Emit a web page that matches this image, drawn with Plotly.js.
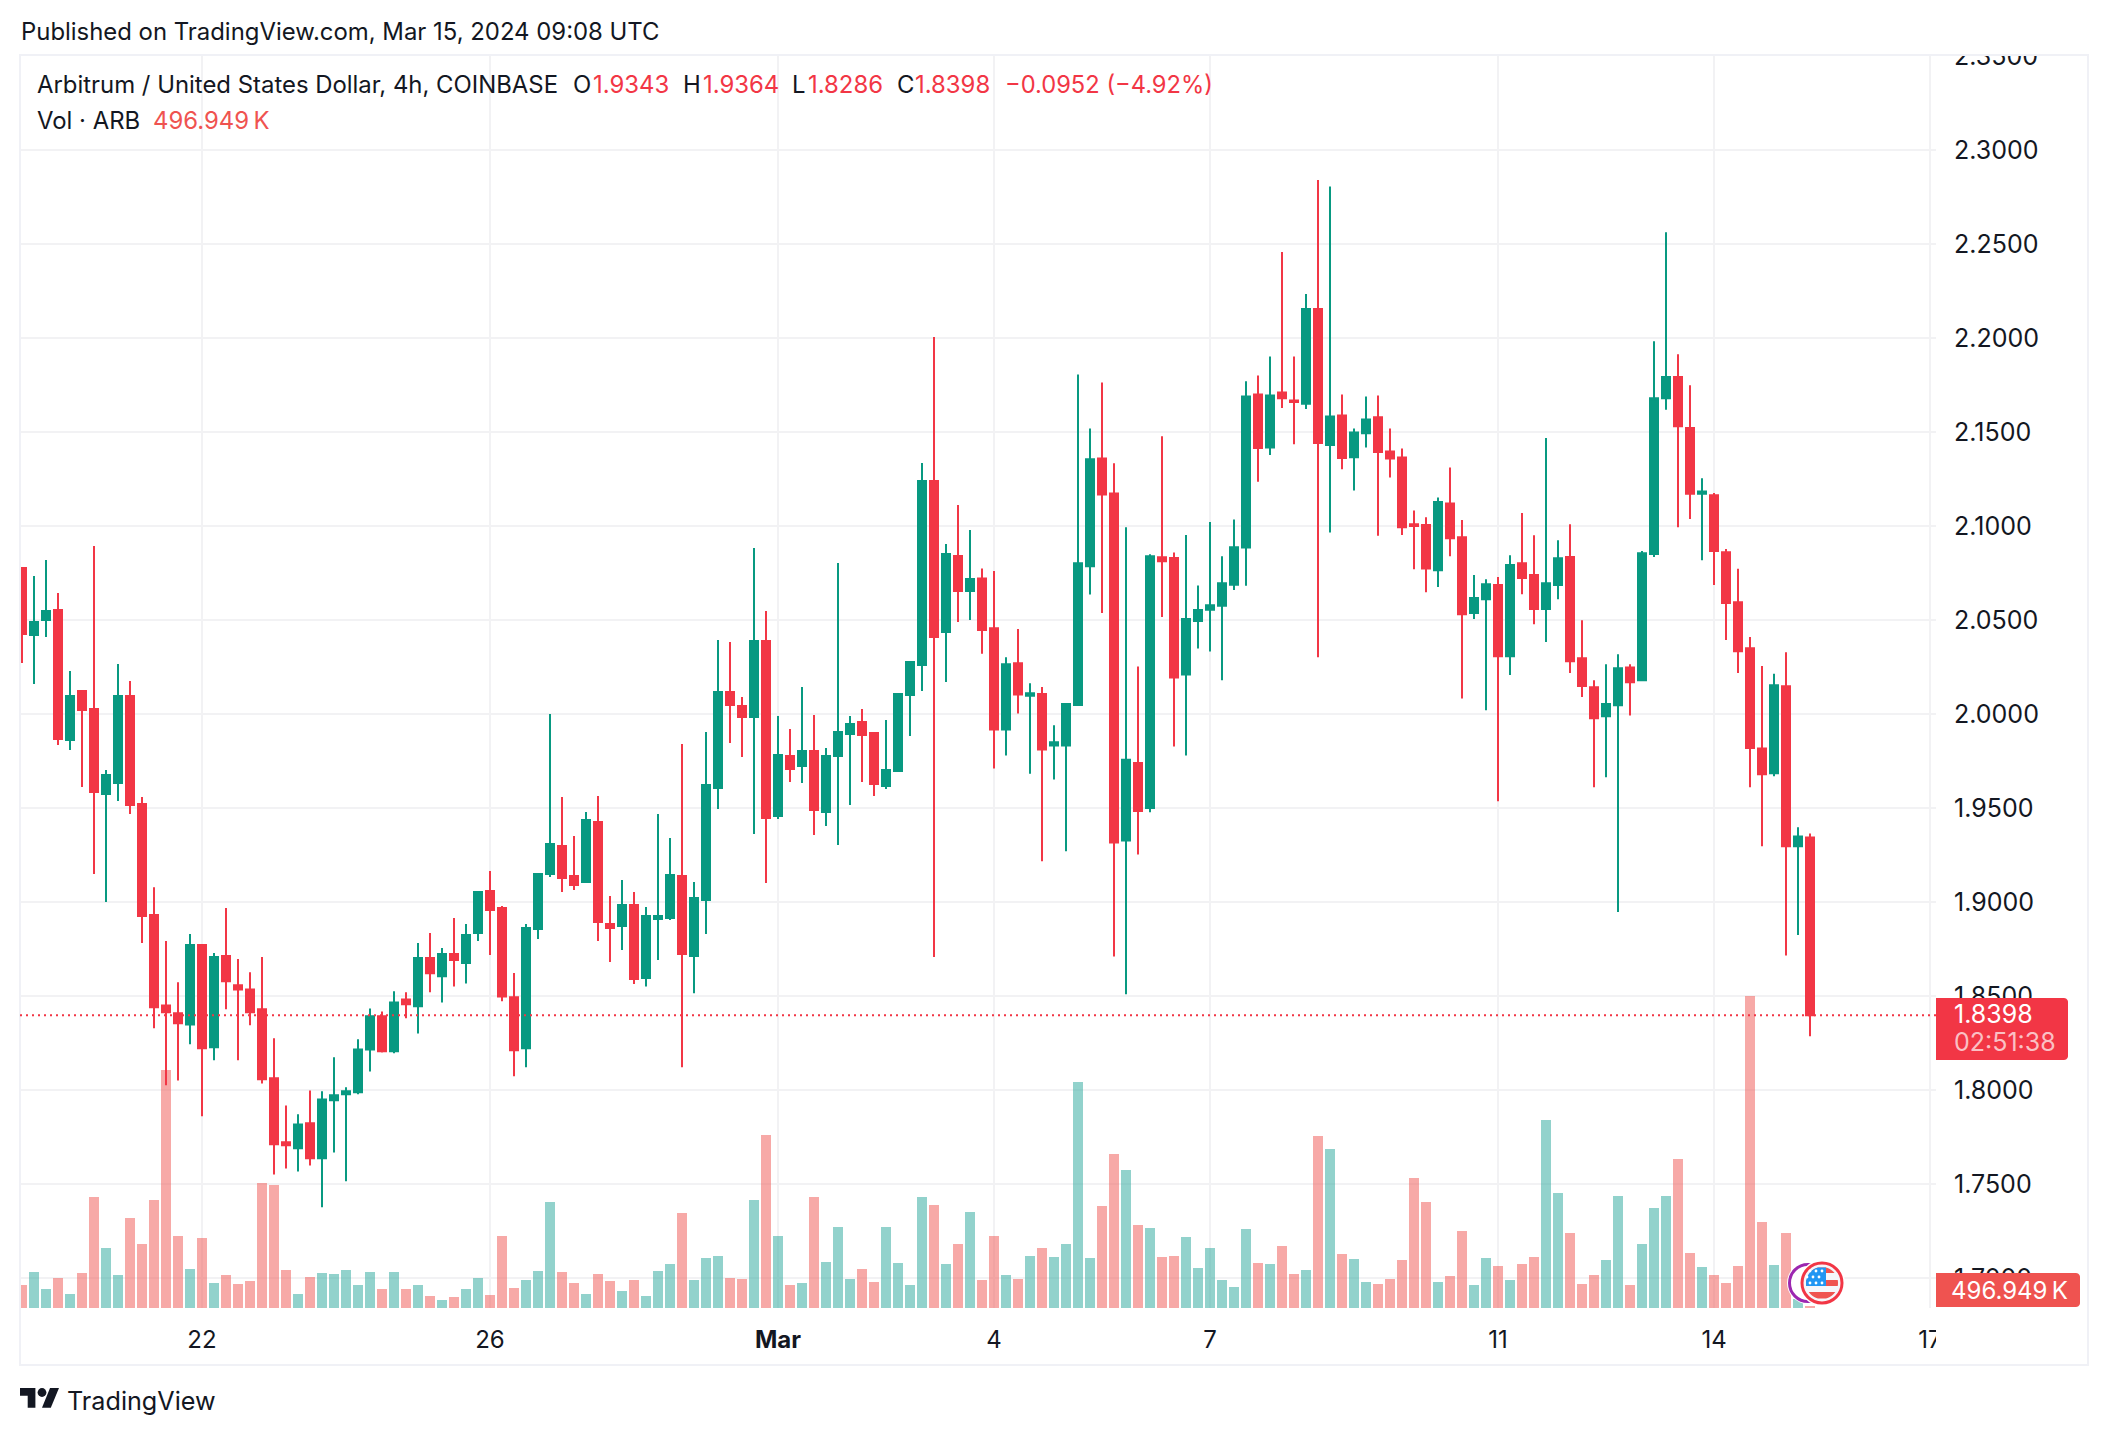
<!DOCTYPE html>
<html>
<head>
<meta charset="utf-8">
<script src="https://cdn.plot.ly/plotly-3.0.1.min.js"></script>
<style>html,body{margin:0;padding:0;background:#fff}#c{width:2108px;height:1434px}</style>
</head>
<body>
<div id="c"></div>
<script>
const openPrices = [
2.0777,2.0420,2.0500,2.0553,1.9862,2.0122,2.0027,1.9574,1.9633,2.0096,
1.9521,1.8931,1.8450,1.8408,1.8349,1.8771,1.8227,1.8713,1.8557,1.8535,
1.8429,1.8062,1.7722,1.7690,1.7823,1.7637,1.7945,1.7977,1.7988,1.8216,
1.8392,1.8206,1.8482,1.8445,1.8702,1.8605,1.8723,1.8676,1.8835,1.9059,
1.8968,1.8493,1.8222,1.8856,1.9149,1.9298,1.9138,1.9106,1.9426,1.8883,
1.8872,1.8984,1.8596,1.8910,1.8915,1.9138,1.8713,1.9011,1.9606,2.0117,
2.0043,1.9984,2.0388,1.9457,1.9777,1.9723,1.9803,1.9479,1.9777,1.9894,
1.9957,1.9899,1.9617,1.9697,2.0101,2.0261,2.1239,2.0436,2.0840,2.0654,
2.0721,2.0456,1.9917,2.0270,2.0097,2.0106,1.9832,1.9832,2.0048,2.0786,
2.1359,2.1173,1.9327,1.9740,1.9500,2.0834,2.0830,2.0210,2.0495,2.0555,
2.0576,2.0687,2.0885,2.1700,2.1417,2.1710,2.1668,2.1650,2.2154,2.1431,
2.1588,2.1366,2.1493,2.1578,2.1396,2.1364,2.1009,2.1005,2.0765,2.1120,
2.0940,2.0537,2.0611,2.0686,2.0307,2.0802,2.0739,2.0558,2.0686,2.0835,
2.0297,2.0142,1.9988,2.0047,2.0248,2.0179,2.0851,2.1680,2.1792,2.1521,
2.1171,2.1164,2.0861,2.0594,2.0350,1.9817,1.9685,2.0147,1.9296,1.9343];
const closePrices = [
2.0426,2.0489,2.0548,1.9867,2.0096,2.0021,1.9585,1.9676,2.0096,1.9516,
1.8926,1.8440,1.8413,1.8355,1.8771,1.8222,1.8707,1.8578,1.8535,1.8413,
1.8057,1.7711,1.7706,1.7817,1.7637,1.7950,1.7972,1.7993,1.8216,1.8392,
1.8206,1.8466,1.8456,1.8702,1.8621,1.8723,1.8691,1.8824,1.9053,1.8957,
1.8498,1.8211,1.8862,1.9149,1.9309,1.9128,1.9090,1.9436,1.8894,1.8862,
1.8984,1.8590,1.8926,1.8926,1.9144,1.8723,1.9021,1.9622,2.0117,2.0048,
1.9984,2.0388,1.9447,1.9782,1.9707,1.9803,1.9489,1.9777,1.9904,1.9947,
1.9888,1.9628,1.9702,2.0106,2.0277,2.1239,2.0410,2.0851,2.0654,2.0718,
2.0447,1.9917,2.0265,2.0104,2.0111,1.9811,1.9850,2.0053,2.0802,2.1355,
2.1168,1.9316,1.9756,1.9484,2.0839,2.0813,2.0194,2.0505,2.0553,2.0578,
2.0696,2.0887,2.1689,2.1415,2.1694,2.1680,2.1659,2.2154,2.1442,2.1583,
2.1362,2.1498,2.1567,2.1394,2.1359,2.0993,2.1000,2.0774,2.1127,2.0935,
2.0531,2.0617,2.0690,2.0307,2.0792,2.0723,2.0558,2.0696,2.0829,2.0281,
2.0149,1.9978,2.0053,2.0244,2.0169,2.0855,2.1680,2.1792,2.1531,2.1171,
2.1183,2.0867,2.0590,2.0334,1.9819,1.9679,2.0153,1.9296,1.9349,1.8398];
const highPrices = [
2.0777,2.0734,2.0819,2.0644,2.0229,2.0128,2.0894,1.9702,2.0266,2.0176,
1.9558,1.9078,1.8793,1.8573,1.8830,1.8771,1.8729,1.8968,1.8697,1.8626,
1.8707,1.8275,1.7918,1.7871,1.7998,1.7993,1.8174,1.8014,1.8270,1.8434,
1.8418,1.8525,1.8520,1.8782,1.8835,1.8755,1.8915,1.8883,1.9059,1.9165,
1.8979,1.8622,1.8883,1.9154,2.0000,1.9559,1.9351,1.9479,1.9564,1.9032,
1.9117,1.9053,1.8973,1.9468,1.9340,1.9840,1.9106,1.9904,2.0394,2.0383,
2.0090,2.0883,2.0548,1.9989,1.9920,2.0144,1.9995,1.9819,2.0803,1.9989,
2.0027,1.9899,1.9968,2.0112,2.0277,2.1335,2.2005,2.0904,2.1112,2.0979,
2.0774,2.0760,2.0302,2.0452,2.0164,2.0143,1.9940,2.0053,2.1806,2.1518,
2.1763,2.1334,2.0993,2.0253,2.0850,2.1477,2.0859,2.0952,2.0684,2.1021,
2.0839,2.1035,2.1770,2.1800,2.1901,2.2457,2.1901,2.2234,2.2840,2.2806,
2.1700,2.1518,2.1689,2.1694,2.1518,2.1412,2.1083,2.1046,2.1152,2.1311,
2.1032,2.0739,2.0717,2.0729,2.0845,2.1069,2.0951,2.1468,2.0924,2.1009,
2.0499,2.0179,2.0264,2.0318,2.0264,2.0867,2.1983,2.2563,2.1914,2.1749,
2.1254,2.1175,2.0877,2.0772,2.0409,2.0255,2.0214,2.0328,1.9398,1.9364];
const lowPrices = [
2.0271,2.0160,2.0410,1.9835,1.9809,1.9612,1.9149,1.9000,1.9537,1.9468,
1.8782,1.8328,1.8025,1.8051,1.8243,1.7860,1.8158,1.8429,1.8158,1.8344,
1.8035,1.7551,1.7583,1.7567,1.7599,1.7376,1.7668,1.7514,1.7977,1.8099,
1.8200,1.8195,1.8381,1.8301,1.8520,1.8466,1.8551,1.8567,1.8793,1.8718,
1.8472,1.8073,1.8121,1.8803,1.9133,1.9053,1.9064,1.9106,1.8793,1.8681,
1.8745,1.8564,1.8551,1.8691,1.8904,1.8121,1.8514,1.8830,1.9495,1.9846,
1.9771,1.9362,1.9101,1.9441,1.9638,1.9633,1.9356,1.9404,1.9303,1.9516,
1.9638,1.9564,1.9601,1.9691,1.9883,2.0122,1.8707,2.0170,2.0489,2.0500,
2.0320,1.9710,1.9779,2.0002,1.9682,1.9217,1.9652,1.9270,2.0048,2.0636,
2.0537,1.8710,1.8509,1.9253,1.9477,2.0516,1.9827,1.9779,2.0348,2.0332,
2.0180,2.0659,2.0682,2.1235,2.1378,2.1627,2.1435,2.1622,2.0302,2.0965,
2.1302,2.1189,2.1417,2.0948,2.1258,2.0952,2.0770,2.0647,2.0675,2.0839,
2.0083,2.0505,2.0020,1.9536,2.0208,2.0637,2.0478,2.0383,2.0611,2.0218,
2.0090,1.9611,1.9664,1.8947,1.9992,2.0179,2.0835,2.1618,2.0993,2.1037,
2.0818,2.0686,2.0393,2.0218,1.9611,1.9296,1.9669,1.8716,1.8824,1.8286];
// volume, thousands of ARB
const volumeK = [
5750,9000,4750,7500,3500,8750,27750,15000,8250,22500,
16000,27000,59500,18000,9750,17500,6250,8250,6000,6750,
31250,30750,9500,3500,7750,8750,8500,9500,5750,9000,
4750,9000,4750,5750,3000,2000,2750,4750,7500,3250,
18000,5000,7000,9250,26500,9000,6250,3500,8500,6750,
4250,7000,3000,9250,11000,23750,7000,12500,13000,7500,
7250,27000,43250,18000,5750,6250,27750,11500,20250,7250,
9750,6500,20250,11250,5750,27750,25750,11000,16000,24000,
7000,18000,8250,7250,13000,15000,12750,16000,56500,12500,
25500,38500,34500,20750,20000,12750,13000,17750,10000,15000,
7000,5250,19750,11250,11000,15500,8500,9500,43000,39750,
13500,12250,6500,6000,7250,12000,32500,26500,6500,8000,
19250,5750,12500,10500,7000,11000,12750,47000,28750,18750,
6000,8250,12000,28000,5750,16000,25000,28000,37250,13750,
10250,8250,6250,10500,78000,21500,10750,18750,2250,496.949];

const firstBar = Date.UTC(2024,1,19,12);
const barMs = 4*3600*1000;
const tickDates = ['2024-02-22','2024-02-26','2024-03-01','2024-03-04','2024-03-07','2024-03-11','2024-03-14','2024-03-17'];
const tickLabels = ['22','26','<b>Mar</b>','4','7','11','14','17'];
const priceTicks = [1.70,1.75,1.80,1.85,1.90,1.95,2.00,2.05,2.10,2.15,2.20,2.25,2.30,2.35];
const priceLabels = priceTicks.map(v=>v.toFixed(4));

const UP='#089981', DOWN='#F23645', UPV='rgba(38,166,154,0.5)', DOWNV='rgba(239,83,80,0.5)', INK='#131722', VOLRED='#EF5350';
const FONT='Inter, "Noto Sans", sans-serif';
const stamp = i => new Date(firstBar+i*barMs).toISOString().slice(0,19).replace('T',' ');
const times = openPrices.map((_,i)=>stamp(i));
const lastClose = closePrices[closePrices.length-1];

// pixel helpers for the page furniture
const L=20,R=1936,T=55,B=1308;
const PX=x=>(x-L)/(R-L), PY=y=>1-(y-T)/(B-T);
const poly=pts=>pts.map((p,i)=>(i?'L':'M')+PX(p[0])+','+PY(p[1])).join(' ')+' Z';
function roundRect(x0,y0,x1,y1,rr){ // square on the left, rounded on the right
  const pts=[[x0,y0],[x1-rr,y0]];
  for(let a=-90;a<=0;a+=15) pts.push([x1-rr+rr*Math.cos(a*Math.PI/180),y0+rr+rr*Math.sin(a*Math.PI/180)]);
  for(let a=0;a<=90;a+=15) pts.push([x1-rr+rr*Math.cos(a*Math.PI/180),y1-rr+rr*Math.sin(a*Math.PI/180)]);
  pts.push([x0,y1]);
  return poly(pts);
}
function pxShape(extra){return Object.assign({xref:'paper',yref:'paper',layer:'above',line:{width:0}},extra);}
function circle(cx,cy,r,fill,lc,lw){return pxShape({type:'circle',x0:PX(cx-r),x1:PX(cx+r),y0:PY(cy+r),y1:PY(cy-r),fillcolor:fill,line:{color:lc||fill,width:lw||0}});}
function band(cx,cy,r,xl,xr,yt,yb,fill){ // part of a disc inside a box
  const a=[],b=[];
  for(let y=yt;y<=yb;y+=0.5){const h=Math.sqrt(Math.max(0,r*r-(y-cy)*(y-cy)));
    const l=Math.max(xl,cx-h), rr=Math.min(xr,cx+h); if(rr>l){a.push([l,y]);b.unshift([rr,y]);}}
  return pxShape({type:'path',path:poly(a.concat(b)),fillcolor:fill});
}

const FY=1283; // event icon centre
const shapes=[
  // covers: clip axis labels to the panes
  pxShape({type:'rect',x0:PX(1936),x1:PX(2087),y0:PY(1363),y1:PY(1309),fillcolor:'#fff'}),
  pxShape({type:'rect',x0:PX(1937),x1:PX(2087),y0:PY(55),y1:PY(30),fillcolor:'#fff'}),
  // frame
  pxShape({type:'rect',x0:PX(20),x1:PX(2088),y0:PY(1365),y1:PY(55),fillcolor:'rgba(0,0,0,0)',line:{color:'#F0F1F6',width:2}}),
  // last price line
  {type:'line',xref:'paper',yref:'y2',x0:0,x1:1,y0:lastClose,y1:lastClose,layer:'above',line:{color:DOWN,width:2,dash:'2px,4px'}},
  // price & volume labels
  pxShape({type:'path',path:roundRect(1936,998,2068,1060,4),fillcolor:DOWN}),
  pxShape({type:'path',path:roundRect(1936,1273,2080,1307,4),fillcolor:VOLRED}),
  // event icons
  circle(1808,FY,21,'#fff'),
  circle(1808,FY,18.5,'#fff','#9C27B0',3),
  circle(1822,FY,23,'#fff'),
  circle(1822,FY,20,'#F5F6FA','#F23645',3),
  band(1822,FY,16,1700,1838,FY-16,FY-10,'#EF5350'),
  band(1822,FY,16,1700,1838,FY-3,FY+3,'#EF5350'),
  band(1822,FY,16,1700,1838,FY+9,FY+16,'#EF5350'),
  band(1822,FY,16,1800,1826,FY-16,FY+3,'#2196F3'),
  // TradingView logo
  pxShape({type:'path',path:poly([[20,1388],[35.4,1388],[35.4,1407.8],[27.7,1407.8],[27.7,1395.7],[20,1395.7]]),fillcolor:INK}),
  pxShape({type:'path',path:poly([[50,1388],[59,1388],[50.8,1407.8],[42,1407.8]]),fillcolor:INK}),
  circle(42,1392.5,4.4,INK)
];
[[1810,FY-12],[1816,FY-12],[1822,FY-12],[1807,FY-6],[1813,FY-6],[1819,FY-6],[1810,FY],[1816,FY],[1822,FY]].forEach(p=>shapes.push(circle(p[0],p[1],1.4,'#fff')));

function note(text,x,y,size,color,extra){
  return Object.assign({xref:'paper',yref:'paper',x:PX(x),y:PY(y),xanchor:'left',yanchor:'middle',showarrow:false,align:'left',
    text:text,font:{family:FONT,size:size,color:color||INK}},extra||{});
}
const red=t=>`<span style="color:${DOWN}">${t}</span>`;
const annotations=[
  note('Published on TradingView.com, Mar 15, 2024 09:08 UTC',19,31,23.9),
  note('Arbitrum / United States Dollar, 4h, COINBASE',34.5,85,23.9),
  note('O',571,85,23.9),note(red('1.9343'),591,85,23.9),
  note('H',681,85,23.9),note(red('1.9364'),701,85,23.9),
  note('L',790,85,23.9),note(red('1.8286'),806,85,23.9),
  note('C',895,85,23.9),note(red('1.8398'),913,85,23.9),
  note(red('−0.0952 (−4.92%)'),1003,85,23.7),
  note('Vol · ARB',34.5,120,23.9),
  note(`<span style="color:${VOLRED}">496.949\u2009K</span>`,151,120,23.9),
  note('1.8398',1952,1014,25,'#fff'),
  note('02:51:38',1952,1042,25,'rgba(255,255,255,0.7)'),
  note('496.949\u2009K',1949,1290,24,'#fff'),
  note('TradingView',64.5,1401,25.2)
];

const traces=[
 {type:'bar',x:times,y:volumeK,yaxis:'y',xaxis:'x',width:barMs*10/12,
  marker:{color:volumeK.map((_,i)=>closePrices[i]>=openPrices[i]?UPV:DOWNV),line:{width:0}},hoverinfo:'skip',showlegend:false},
 {type:'candlestick',x:times,open:openPrices,high:highPrices,low:lowPrices,close:closePrices,xaxis:'x',yaxis:'y2',
  increasing:{line:{color:UP,width:2},fillcolor:UP},decreasing:{line:{color:DOWN,width:2},fillcolor:DOWN},whiskerwidth:0,showlegend:false}
];
const layout={
 width:2108,height:1434,autosize:false,paper_bgcolor:'#fff',plot_bgcolor:'#fff',showlegend:false,
 margin:{l:L,r:2108-R,t:T,b:1434-B,pad:0},font:{family:FONT,color:INK,size:24},boxgap:1/3,boxgroupgap:0,
 xaxis:{type:'date',range:[stamp(-2/12),stamp(159.5)],tickmode:'array',tickvals:tickDates,ticktext:tickLabels,
   rangeslider:{visible:false},showgrid:true,gridcolor:'#F2F2F4',gridwidth:2,zeroline:false,showline:false,ticks:'',ticklabelstandoff:15,tickfont:{size:24,color:INK},tickangle:0},
 yaxis:{range:[0,(B-T)*250],visible:false,showgrid:false,zeroline:false,fixedrange:true},
 yaxis2:{overlaying:'y',side:'right',anchor:'x',range:[2.3-(B-150)/1880,2.3+(150-T)/1880],tickmode:'array',tickvals:priceTicks,ticktext:priceLabels,
   showgrid:true,gridcolor:'#F2F2F4',gridwidth:2,zeroline:false,showline:false,ticks:'',ticklabelstandoff:17,tickfont:{size:25,color:INK}},
 shapes:shapes,annotations:annotations
};
Plotly.newPlot('c',traces,layout,{staticPlot:true,displayModeBar:false});
</script>
</body>
</html>
